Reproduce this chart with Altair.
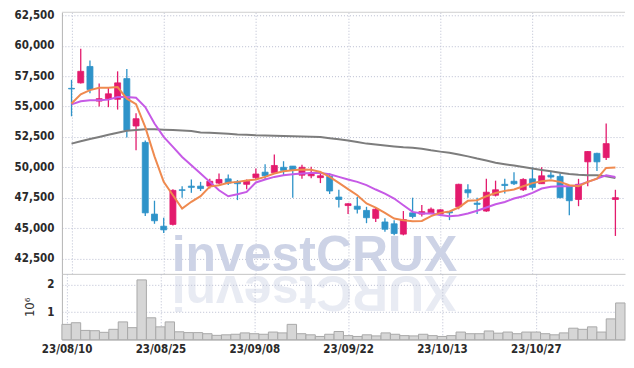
import altair as alt
import pandas as pd

# ---------------- data ----------------
dates = [
    "23/08/10", "23/08/11", "23/08/14", "23/08/16", "23/08/17", "23/08/18", "23/08/21", "23/08/22", "23/08/23", "23/08/24",
    "23/08/25", "23/08/28", "23/08/29", "23/08/30", "23/08/31", "23/09/01", "23/09/04", "23/09/05", "23/09/06", "23/09/07",
    "23/09/08", "23/09/11", "23/09/12", "23/09/13", "23/09/14", "23/09/15", "23/09/18", "23/09/19", "23/09/20", "23/09/21",
    "23/09/22", "23/09/25", "23/09/26", "23/09/27", "23/10/04", "23/10/05", "23/10/06", "23/10/10", "23/10/11", "23/10/12",
    "23/10/13", "23/10/16", "23/10/17", "23/10/18", "23/10/19", "23/10/20", "23/10/23", "23/10/24", "23/10/25", "23/10/26",
    "23/10/27", "23/10/30", "23/10/31", "23/11/01", "23/11/02", "23/11/03", "23/11/06", "23/11/07", "23/11/08", "23/11/09",
]
opens = [56500, 56950, 58300, 55450, 55650, 55600, 57300, 53400, 52050, 46150,
         45150, 45300, 48150, 48450, 48450, 48450, 48700, 49050, 48800, 48600,
         49150, 49600, 49550, 50000, 50100, 49350, 49300, 49150, 49250, 47550,
         46850, 46800, 46450, 45800, 45500, 45350, 44500, 46250, 46150, 46250,
         46150, 46350, 46750, 48150, 47050, 46400, 47700, 48600, 48850, 48150,
         49050, 48650, 49350, 49250, 48450, 47350, 50450, 51150, 50800, 47350]
highs = [57200, 59750, 58800, 56900, 56550, 57900, 58100, 54450, 52200, 47250,
         45850, 48200, 48450, 49000, 48800, 49050, 49500, 49400, 48950, 49000,
         49900, 50250, 51050, 50500, 50100, 50200, 50050, 49700, 49500, 48150,
         47050, 47550, 46750, 46700, 45800, 45650, 46400, 47500, 46900, 46700,
         46550, 46400, 48650, 48600, 47500, 49050, 48900, 49050, 49600, 49100,
         50000, 50000, 49700, 49500, 48500, 49050, 51350, 51200, 53600, 48150]
lows = [54200, 56900, 56100, 55000, 54950, 54750, 52450, 51400, 46000, 45350,
        44600, 45200, 47500, 47900, 48050, 48250, 48600, 48550, 47300, 48200,
        49000, 48950, 49500, 49350, 47500, 49050, 49100, 48700, 47800, 46700,
        46150, 46200, 45400, 45500, 44700, 44400, 44400, 45800, 45950, 46150,
        46100, 45650, 46550, 47500, 46150, 46350, 47600, 47850, 48550, 48050,
        48150, 48650, 49050, 47450, 46050, 46800, 48450, 49700, 50600, 44350]
closes = [56450, 57900, 56400, 55650, 56050, 56950, 53050, 54000, 46250, 45600,
          44850, 48100, 48100, 48350, 48250, 48850, 49000, 48700, 48650, 48850,
          49450, 49300, 50150, 49750, 49750, 50000, 49500, 49300, 48050, 47350,
          47000, 46550, 45850, 46550, 44900, 44550, 45700, 45950, 46350, 46550,
          46500, 46250, 48600, 47900, 46950, 47950, 48150, 48500, 48650, 49000,
          48350, 49300, 49200, 47500, 47250, 48600, 51300, 50450, 51950, 47500]
volume_m = [0.56, 0.62, 0.34, 0.33, 0.27, 0.38, 0.65, 0.44, 2.18, 0.80,
            0.47, 0.65, 0.29, 0.26, 0.26, 0.22, 0.16, 0.18, 0.20, 0.25,
            0.22, 0.20, 0.28, 0.25, 0.56, 0.22, 0.18, 0.12, 0.20, 0.30,
            0.15, 0.12, 0.18, 0.14, 0.25, 0.20, 0.15, 0.14, 0.20, 0.15,
            0.12, 0.15, 0.28, 0.22, 0.22, 0.32, 0.24, 0.28, 0.22, 0.28,
            0.28, 0.22, 0.18, 0.25, 0.42, 0.38, 0.47, 0.28, 0.76, 1.34]
ma_short = [55250, 56000, 56350, 56550, 56550, 56600, 55650, 55200, 53300, 50900,
            48800, 47700, 46600, 47160, 47620, 48410, 48530, 48720, 48800, 48910,
            48990, 49210, 49490, 49680, 49760, 49820, 49790, 49620, 49210, 48720,
            48200, 47700, 47020, 46690, 46250, 45780, 45650, 45570, 45590, 45980,
            46250, 46360, 46690, 47240, 47290, 47620, 47890, 48060, 48170, 48440,
            48700, 48860, 48940, 48800, 48530, 48440, 48800, 49070, 49950, 49980]
ma_mid = [55180, 55430, 55510, 55510, 55570, 55785, 55785, 55730, 54960, 53600,
          52500, 51680, 50850, 50170, 49490, 48800, 48110, 47620, 47790, 47980,
          48750, 48990, 49210, 49350, 49430, 49490, 49540, 49540, 49430, 49210,
          48990, 48800, 48530, 48170, 47840, 47430, 46880, 46330, 46200, 46200,
          46070, 45980, 46030, 46200, 46420, 46690, 46960, 47150, 47430, 47620,
          47890, 48250, 48390, 48440, 48440, 48530, 48800, 49070, 49350, 49210]
ma_long = [51950, 52150, 52330, 52500, 52680, 52850, 53000, 53080, 53130, 53130,
           53100, 53070, 53020, 52980, 52870, 52840, 52800, 52760, 52710, 52680,
           52640, 52620, 52600, 52580, 52560, 52540, 52520, 52500, 52400, 52300,
           52210, 52080, 51950, 51870, 51800, 51720, 51650, 51600, 51530, 51400,
           51290, 51200, 51060, 50900, 50720, 50560, 50380, 50260, 50140, 50020,
           49900, 49780, 49670, 49560, 49450, 49390, 49350, 49340, 49270, 49120]
price_ticks = [42500, 45000, 47500, 50000, 52500, 55000, 57500, 60000, 62500]
volume_ticks = [1, 2]
x_tick_idx = [0, 10, 20, 30, 40, 50]
watermark = "investCRUX"

# ---------------- style ----------------
UP = "#e31b6d"
DOWN = "#2e93c9"
C_SHORT = "#ef8a4f"
C_MID = "#c65ae6"
C_LONG = "#7d7d7d"
GRID = "#b9bdd0"
FONT = "DejaVu Sans Condensed"
W, H_MAIN, H_VOL = 564, 262, 66

df = pd.DataFrame({
    "i": list(range(len(dates))), "date": dates,
    "open": opens, "high": highs, "low": lows, "close": closes,
    "vol": volume_m, "ma_s": ma_short, "ma_m": ma_mid, "ma_l": ma_long,
})

label_expr = "[" + ",".join("'%s'" % d for d in dates) + "][datum.value]"
xscale = alt.Scale(domain=[-0.5, len(dates) - 0.5], nice=False, zero=False)
grid_kw = dict(grid=True, gridDash=[1, 2], gridColor=GRID, gridWidth=1)

x_main = alt.X("i:Q", scale=xscale,
               axis=alt.Axis(values=x_tick_idx, tickCount=20, labels=False, ticks=False, title=None,
                             domain=True, domainColor="#c4c4c4", **grid_kw))
yscale = alt.Scale(domain=[41230, 62760], nice=False, zero=False)
y_axis = alt.Axis(values=price_ticks, tickCount=20, format=",d", title=None, ticks=False,
                  labelPadding=8, labelOverlap=False, domainColor="#b5b5b5", **grid_kw)

up_cond = alt.when(alt.datum.close >= alt.datum.open).then(alt.value(UP)).otherwise(alt.value(DOWN))

base = alt.Chart(df)

wm_df = pd.DataFrame({"t": [watermark], "r": [watermark[::-1]]})
wm = alt.Chart(wm_df).mark_text(
    font="Liberation Sans", fontWeight="bold", fontSize=50, color="#cdd3e6",
    align="center", baseline="alphabetic"
).encode(x=alt.value(253), y=alt.value(259), text="t:N")
wm_reflect = alt.Chart(wm_df).mark_text(
    font="Liberation Sans", fontWeight="bold", fontSize=50, color="#cdd3e6",
    opacity=0.45, align="center", baseline="alphabetic", angle=180
).encode(x=alt.value(253), y=alt.value(264), text="r:N")

top_border = alt.Chart(pd.DataFrame({"k": [0]})).mark_rule(color="#cfcfcf", strokeWidth=1).encode(
    x=alt.value(0), x2=alt.value(W), y=alt.value(0))

wicks = base.mark_rule(strokeWidth=1.3).encode(
    x=x_main,
    y=alt.Y("low:Q", scale=yscale, axis=y_axis),
    y2="high:Q",
    color=up_cond,
)
bodies = base.mark_bar(size=6, strokeWidth=0.8).encode(
    x="i:Q", y="open:Q", y2="close:Q", color=up_cond, stroke=up_cond,
)
line_long = base.mark_line(color=C_LONG, strokeWidth=2).encode(x="i:Q", y="ma_l:Q")
line_mid = base.mark_line(color=C_MID, strokeWidth=2).encode(x="i:Q", y="ma_m:Q")
line_short = base.mark_line(color=C_SHORT, strokeWidth=2).encode(x="i:Q", y="ma_s:Q")

main = alt.layer(wm, wm_reflect, top_border, wicks, bodies, line_long, line_mid, line_short).properties(
    width=W, height=H_MAIN)

vol = base.transform_calculate(x0="datum.i - 0.5", x1="datum.i + 0.5").mark_bar(
    color="#d6d6d6", stroke="#a9a9a9", strokeWidth=1
).encode(
    x=alt.X("x0:Q", scale=xscale,
            axis=alt.Axis(values=x_tick_idx, tickCount=20, labelExpr=label_expr, ticks=False, title=None,
                          labelPadding=4, domain=True, domainColor="#c4c4c4", **grid_kw)),
    x2="x1:Q",
    y=alt.Y("vol:Q", scale=alt.Scale(domain=[0, 2.4], nice=False),
            axis=alt.Axis(values=volume_ticks, tickCount=10, format="d", title="10⁶", ticks=False,
                          labelPadding=8, titlePadding=10, titleFontWeight="normal", titleFontSize=13,
                          titleColor="#333", domainColor="#b5b5b5", **grid_kw)),
    y2=alt.datum(0),
).properties(width=W, height=H_VOL)

chart = alt.vconcat(main, vol, spacing=0, bounds="flush").properties(
    padding={"left": 6, "top": 1, "right": 0, "bottom": 4}
).configure_view(stroke=None).configure_axis(
    labelFont=FONT, labelFontSize=11.5, labelFontWeight="bold", labelColor="#2a2a2a", titleFont=FONT,
)

chart.save("out.html", embed_options={"renderer": "svg", "actions": False})
